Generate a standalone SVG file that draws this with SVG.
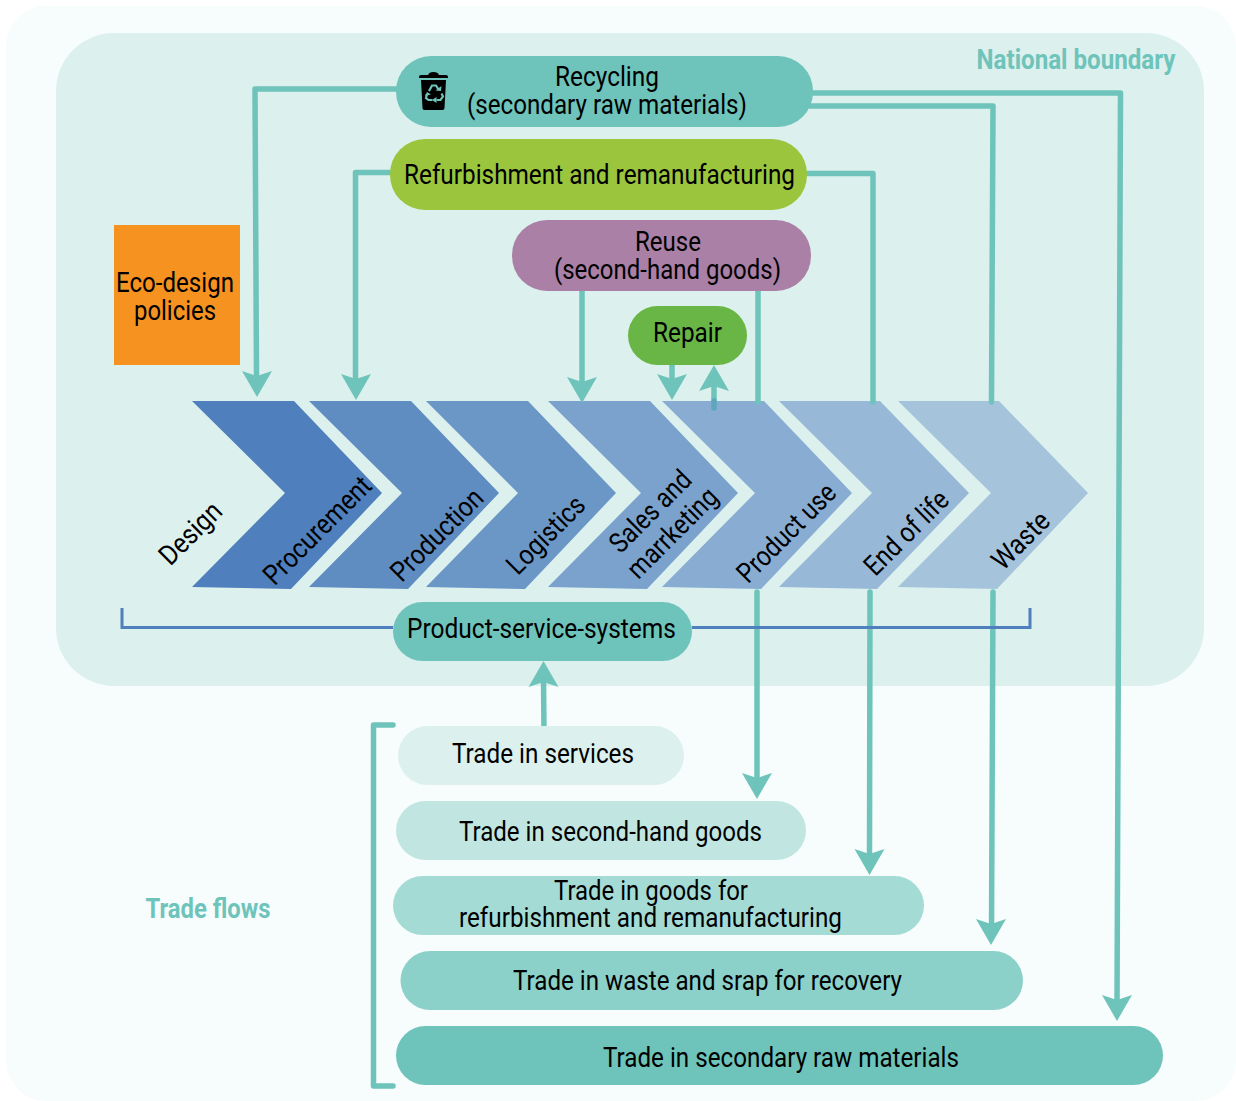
<svg xmlns="http://www.w3.org/2000/svg" width="1236" height="1101" viewBox="0 0 1236 1101">
<style>
text{font-family:"Roboto","Liberation Sans",sans-serif;fill:#000;font-size:28px;text-anchor:middle}
.c{fill:none;stroke:#6ec4ba;stroke-width:5.500;stroke-linejoin:round}
.r{stroke-linecap:round}
.h{fill:#6ec4ba}
text.t{fill:#6ec4ba;font-weight:700}
</style>
<defs>
<path id="ah" d="M-15 -26L0 -21L15 -26L0 0Z" class="h"/>
</defs>
<rect width="1236" height="1101" fill="#fff"/>
<rect x="6" y="6" width="1230" height="1095" rx="40" fill="#f7fdfd"/>
<rect x="56" y="33" width="1148" height="653" rx="58" fill="#dcf0ee"/>
<text class="t" x="1076" y="69" textLength="199" lengthAdjust="spacingAndGlyphs">National boundary</text>
<text class="t" x="208" y="918" textLength="125" lengthAdjust="spacingAndGlyphs">Trade flows</text>

<g id="chain">
<g id="design"><path d="M192 401H294L382 493L291 589L192 587L285 493Z" fill="#4f7fbc"/></g>
<g id="procurement"><path d="M309 401H411L499 493L408 589L309 587L402 493Z" fill="#5f8cc1"/></g>
<g id="production"><path d="M426 401H528L616 493L525 589L426 587L518 493Z" fill="#6b97c7"/></g>
<g id="logistics"><path d="M548 401H650L738 493L647 589L548 587L641 493Z" fill="#7aa2cc"/></g>
<g id="sales"><path d="M662 401H764L852 493L761 589L662 587L755 493Z" fill="#88acd2"/></g>
<g id="use"><path d="M779 401H880L969 493L877 589L779 587L872 493Z" fill="#97b8d6"/></g>
<g id="end"><path d="M898 401H999L1088 493L997 589L898 587L991 493Z" fill="#a5c4dc"/></g>
</g>
<g id="chain-labels">
<text transform="translate(197 540) rotate(-45)" textLength="76" lengthAdjust="spacingAndGlyphs">Design</text>
<text transform="translate(324 537) rotate(-45)" textLength="140" lengthAdjust="spacingAndGlyphs">Procurement</text>
<text transform="translate(443.500 541.500) rotate(-45)" textLength="118" lengthAdjust="spacingAndGlyphs">Production</text>
<text transform="translate(552.500 541.500) rotate(-45)" textLength="98" lengthAdjust="spacingAndGlyphs">Logistics</text>
<text transform="translate(657 518) rotate(-45)" textLength="103" lengthAdjust="spacingAndGlyphs">Sales and</text>
<text transform="translate(679 539.500) rotate(-45)" textLength="115" lengthAdjust="spacingAndGlyphs">marrketing</text>
<text transform="translate(793 539.500) rotate(-45)" textLength="127" lengthAdjust="spacingAndGlyphs">Product use</text>
<text transform="translate(913 539.500) rotate(-45)" textLength="107" lengthAdjust="spacingAndGlyphs">End of life</text>
<text transform="translate(1027.500 547) rotate(-45)" textLength="69" lengthAdjust="spacingAndGlyphs">Waste</text>
</g>

<g id="connectors">
<path class="c" d="M400 89H255L256.500 378"/>
<use href="#ah" transform="translate(257 397)"/>
<path class="c" d="M395 172.500H355.500V380"/>
<use href="#ah" transform="translate(356 400)"/>
<path class="c" d="M582 288V385"/>
<use href="#ah" transform="translate(582 403)"/>
<path class="c" d="M672 362V385"/>
<use href="#ah" transform="translate(672 400)"/>
<path class="c r" d="M714 408V385"/>
<path d="M714 401V408" fill="none" stroke="#5ea5bd" stroke-width="5.500" stroke-linecap="round"/>
<use href="#ah" transform="translate(714 365) rotate(180)"/>
<path class="c r" d="M758 288V402"/>
<path class="c r" d="M805 173.500H873V402"/>
<path class="c r" d="M810 106H993L991.500 402"/>
<path class="c" d="M810 93H1120.500L1117 1005"/>
<use href="#ah" transform="translate(1117 1021)"/>
<path class="c r" d="M757 592V785"/>
<use href="#ah" transform="translate(757 799)"/>
<path class="c r" d="M870 592L869.500 860"/>
<use href="#ah" transform="translate(869.500 875)"/>
<path class="c r" d="M993 592L991.500 930"/>
<use href="#ah" transform="translate(991 945)"/>
<path class="c r" d="M544 733L543.500 680"/>
<use href="#ah" transform="translate(543.500 661) rotate(180)"/>
<path class="c r" d="M393 725H373.500V1086H393"/>
</g>
<path id="pss-bracket" d="M122 608V627.500H393M692 627.500H1030V608" fill="none" stroke="#4f7fbc" stroke-width="3"/>

<g id="recycling">
<rect x="396" y="56" width="417" height="71" rx="35" fill="#6ec4ba"/>
<path d="M419 77Q419 75 421 75H428Q429 72 433.500 72Q438 72 439 75H446Q448 75 448 77V78H419Z M421 80H446L444.500 108Q444.500 110 442.500 110H424.500Q422.500 110 422.500 108Z" fill="#000"/>
<g fill="none" stroke="#6ec4ba" stroke-width="2.200">
<path d="M429 91L432 85.500H436L438.500 89.500"/>
<path d="M427 94L426 98L428.500 100H432.500"/>
<path d="M436.500 100H440.500L443 96.500L441.500 93.500"/>
</g>
<path d="M435.500 90.500L441 91L441.500 86Z M427 92L431 94.500L425 96Z M436.500 97V103L432 100Z" class="h"/>
<text x="607" y="86" textLength="104" lengthAdjust="spacingAndGlyphs">Recycling</text>
<text x="607" y="114" textLength="280" lengthAdjust="spacingAndGlyphs">(secondary raw materials)</text>
</g>
<g id="refurb">
<rect x="390" y="139" width="417" height="71" rx="35" fill="#9bc53d"/>
<text x="599.500" y="184" textLength="391" lengthAdjust="spacingAndGlyphs">Refurbishment and remanufacturing</text>
</g>
<g id="reuse">
<rect x="512" y="220" width="299" height="71" rx="35" fill="#aa80a6"/>
<text x="668" y="251" textLength="66" lengthAdjust="spacingAndGlyphs">Reuse</text>
<text x="667.500" y="279" textLength="227" lengthAdjust="spacingAndGlyphs">(second-hand goods)</text>
</g>
<g id="repair">
<rect x="628" y="306" width="119" height="59" rx="29.500" fill="#69b545"/>
<text x="687.500" y="342" textLength="69" lengthAdjust="spacingAndGlyphs">Repair</text>
</g>
<g id="eco">
<rect x="114" y="225" width="126" height="140" fill="#f69220"/>
<text x="175" y="292" textLength="118" lengthAdjust="spacingAndGlyphs">Eco-design</text>
<text x="175" y="320" textLength="82" lengthAdjust="spacingAndGlyphs">policies</text>
</g>
<g id="pss">
<rect x="393" y="602" width="299" height="59" rx="29.500" fill="#6ec4ba"/>
<text x="541.500" y="638" textLength="269" lengthAdjust="spacingAndGlyphs">Product-service-systems</text>
</g>
<g id="trade-services">
<rect x="398" y="726" width="286" height="59" rx="29.500" fill="#dcf0ee"/>
<text x="543" y="763" textLength="182" lengthAdjust="spacingAndGlyphs">Trade in services</text>
</g>
<g id="trade-secondhand">
<rect x="396" y="801" width="410" height="59" rx="29.500" fill="#c1e6e1"/>
<text x="610.500" y="841" textLength="303" lengthAdjust="spacingAndGlyphs">Trade in second-hand goods</text>
</g>
<g id="trade-goods">
<rect x="393" y="876" width="531" height="59" rx="29.500" fill="#a5dbd5"/>
<text x="651" y="900" textLength="194" lengthAdjust="spacingAndGlyphs">Trade in goods for</text>
<text x="650.500" y="927" textLength="383" lengthAdjust="spacingAndGlyphs">refurbishment and remanufacturing</text>
</g>
<g id="trade-waste">
<rect x="400.500" y="951" width="622.500" height="59" rx="29.500" fill="#8bd0c9"/>
<text x="707.500" y="990" textLength="389" lengthAdjust="spacingAndGlyphs">Trade in waste and srap for recovery</text>
</g>
<g id="trade-materials">
<rect x="396" y="1026" width="767" height="59" rx="29.500" fill="#6ec4ba"/>
<text x="781" y="1067" textLength="356" lengthAdjust="spacingAndGlyphs">Trade in secondary raw materials</text>
</g>
</svg>
